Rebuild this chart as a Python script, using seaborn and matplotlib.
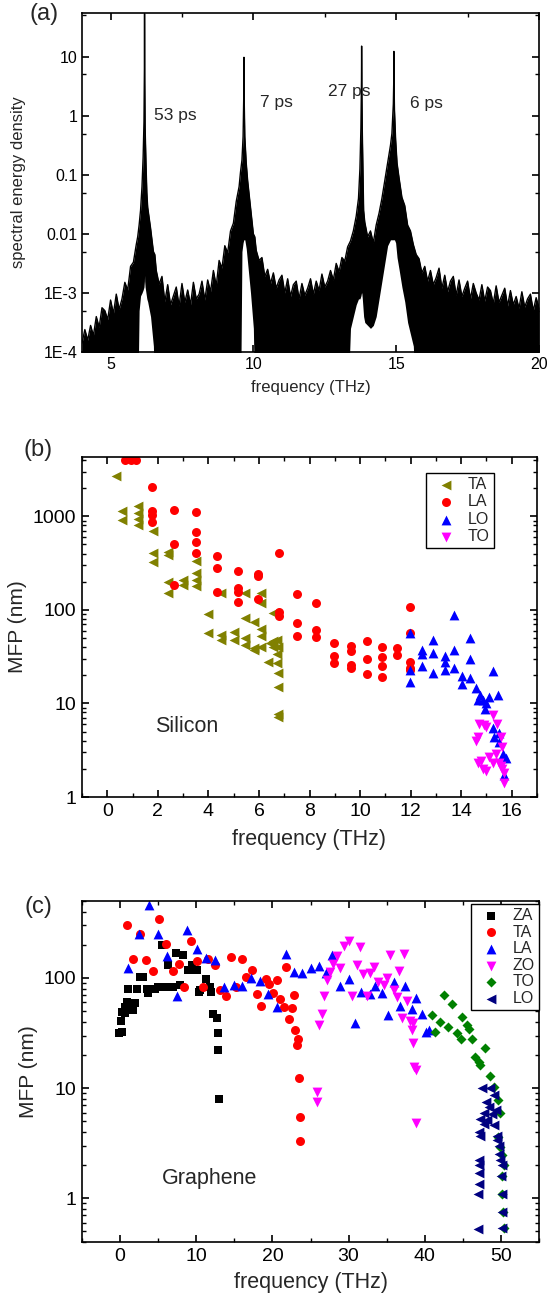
import numpy as np
import seaborn as sns
import matplotlib
matplotlib.use('Agg')
import matplotlib.pyplot as plt
from matplotlib.ticker import MultipleLocator, FixedLocator, LogLocator, FuncFormatter, NullFormatter

# ---------------- (a) spectral energy density ----------------
# noisy band: upper edge and lower edge (log10), -5 = band reaches the axis
sed_freq = [4.0, 4.1, 4.2, 4.3, 4.4, 4.5, 4.6, 4.7, 4.8, 4.9, 5.0, 5.1, 5.2, 5.3, 5.4, 5.5, 5.6, 5.7, 5.8, 5.9, 5.95,
            6.0, 6.05, 6.1, 6.14, 6.17, 6.185, 6.19, 6.195, 6.21, 6.24, 6.27, 6.3, 6.4, 6.5, 6.55,
            6.6, 6.7, 6.8, 6.9, 7.0, 7.1, 7.2, 7.3, 7.4, 7.5, 7.6, 7.7, 7.8, 7.9, 8.0, 8.1, 8.2, 8.3, 8.4, 8.5,
            8.6, 8.7, 8.8, 8.9, 9.0, 9.1, 9.2, 9.3, 9.4, 9.5,
            9.55, 9.6, 9.64, 9.665, 9.67, 9.675, 9.7, 9.75, 9.8, 9.9, 10.0, 10.05,
            10.1, 10.2, 10.3, 10.4, 10.5, 10.6, 10.7, 10.8, 10.9, 11.0, 11.1, 11.2, 11.3, 11.4, 11.5, 11.6, 11.7,
            11.8, 11.9, 12.0, 12.1, 12.2, 12.3, 12.4, 12.5, 12.6, 12.7, 12.8, 12.9, 13.0, 13.1, 13.2, 13.3,
            13.4, 13.5, 13.6, 13.68, 13.73, 13.765, 13.785, 13.79, 13.795, 13.815, 13.86, 13.9, 14.0, 14.1, 14.2,
            14.3, 14.4, 14.5, 14.6, 14.7, 14.8, 14.85, 14.9, 14.915, 14.92, 14.925, 14.94, 14.98, 15.03, 15.1,
            15.2, 15.3, 15.4, 15.5,
            15.6, 15.7, 15.8, 15.9, 16.0, 16.1, 16.2, 16.3, 16.4, 16.5, 16.6, 16.7, 16.8, 16.9, 17.0, 17.1, 17.2,
            17.3, 17.4, 17.5, 17.6, 17.7, 17.8, 17.9, 18.0, 18.1, 18.2, 18.3, 18.4, 18.5, 18.6, 18.7, 18.8, 18.9,
            19.0, 19.1, 19.2, 19.3, 19.4, 19.5, 19.6, 19.7, 19.8, 19.9, 20.0]
sed_hi_log = [-3.85, -3.62, -3.80, -3.55, -3.72, -3.40, -3.58, -3.25, -3.30, -3.45, -3.12, -3.35, -3.02, -3.28,
              -3.10, -2.82, -2.95, -2.55, -2.48, -2.18, -2.05,
              -1.85, -1.60, -1.20, -0.70, -0.10, 0.80, 1.73, 0.80, -0.20, -0.80, -1.30, -1.55, -1.90, -2.30, -2.35,
              -2.62, -2.85, -2.72, -3.15, -2.86, -3.20, -3.05, -2.90, -3.22, -2.84, -3.16, -2.95, -3.20, -2.82,
              -3.10, -3.02, -2.80, -3.12, -2.78, -2.98,
              -2.62, -2.88, -2.45, -2.58, -2.20, -2.32, -1.95, -1.82, -1.45, -1.20,
              -0.95, -0.75, -0.35, 0.40, 0.99, 0.40, -0.35, -0.80, -1.10, -1.55, -2.00, -2.05,
              -2.28, -2.45, -2.40, -2.72, -2.60, -2.84, -2.66, -2.92, -2.78, -2.70, -3.00, -2.76, -3.06, -2.86,
              -2.80, -3.10, -2.84, -3.04, -2.92, -2.76, -3.02, -2.80, -2.96, -2.68, -2.90, -2.80, -2.62, -2.78,
              -2.50, -2.64, -2.40, -2.46, -2.22,
              -2.12, -1.95, -1.70, -1.40, -0.90, -0.20, 0.60, 1.18, 0.60, -0.30, -1.60, -1.80, -2.05, -1.95, -2.15,
              -1.85, -1.65, -1.40, -1.10, -0.80, -0.50, -0.30, 0.20, 0.60, 1.09, 0.60, 0.10, -0.40, -0.80, -1.05,
              -1.38, -1.52, -1.85, -1.95,
              -2.18, -2.35, -2.42, -2.66, -2.55, -2.80, -2.62, -2.86, -2.74, -2.58, -2.92, -2.70, -2.98, -2.80,
              -2.72, -3.04, -2.78, -3.06, -2.92, -2.80, -3.10, -2.84, -3.00, -3.12, -2.86, -3.14, -2.90, -2.96,
              -3.18, -2.88, -3.16, -3.04, -2.92, -3.22, -2.96, -3.20, -3.06, -3.26, -2.98, -3.24, -3.10, -3.02,
              -3.30, -3.08, -3.25]
sed_lo_log = [-5, -5, -5, -5, -5, -5, -5, -5, -5, -5, -5, -5, -5, -5, -5, -5, -5, -5, -5, -5, -5,
              -3.30, -3.05, -3.00, -2.95, -2.90, -2.80, -2.70, -2.80, -2.90, -3.00, -3.10, -3.15, -3.40, -3.90, -5,
              -5, -5, -5, -5, -5, -5, -5, -5, -5, -5, -5, -5, -5, -5, -5, -5, -5, -5, -5, -5,
              -5, -5, -5, -5, -5, -5, -5, -5, -5, -5,
              -5, -2.30, -2.15, -2.10, -2.10, -2.10, -2.10, -2.25, -2.50, -3.00, -3.60, -5,
              -5, -5, -5, -5, -5, -5, -5, -5, -5, -5, -5, -5, -5, -5, -5, -5, -5,
              -5, -5, -5, -5, -5, -5, -5, -5, -5, -5, -5, -5, -5, -5, -5, -5,
              -3.60, -3.40, -3.20, -3.10, -3.10, -3.05, -3.00, -3.00, -3.00, -3.10, -3.40, -3.50, -3.55, -3.60, -3.55,
              -3.40, -3.10, -2.80, -2.50, -2.20, -2.10, -2.10, -2.10, -2.10, -2.10, -2.10, -2.10, -2.15, -2.40, -2.60,
              -2.90, -3.15, -3.50, -3.70,
              -3.90, -5, -5, -5, -5, -5, -5, -5, -5, -5, -5, -5, -5, -5, -5, -5, -5,
              -5, -5, -5, -5, -5, -5, -5, -5, -5, -5, -5, -5, -5, -5, -5, -5, -5,
              -5, -5, -5, -5, -5, -5, -5, -5, -5, -5, -5]
peak_f = [6.52, 10.22, 12.62, 15.48]
peak_y = [1.0, 1.68, 2.57, 1.64]
peak_txt = ['53 ps', '7 ps', '27 ps', '6 ps']
sed_ticks = [1e-4, 1e-3, 1e-2, 0.1, 1, 10]
sed_ticklabels = ['1E-4', '1E-3', '0.01', '0.1', '1', '10']

# ---------------- (b) silicon ----------------
ta_si_f = [0.35, 0.6, 0.6, 1.2, 1.2, 1.2, 1.2, 1.8, 1.8, 1.8, 2.4, 2.4, 2.4, 2.4, 3.0, 3.0, 3.5, 3.5, 3.5, 3.5,
           4.0, 4.0, 4.5, 4.5, 4.5, 5.0, 5.0, 5.45, 5.45, 5.45, 5.45, 5.8, 5.8, 5.8, 6.1, 6.1, 6.1, 6.1, 6.1,
           6.35, 6.45, 6.55, 6.55, 6.55, 6.7, 6.7, 6.7, 6.75, 6.75, 6.75, 6.75, 6.75]
ta_si_mfp = [2700, 1150, 920, 1280, 1090, 945, 815, 690, 405, 325, 420, 390, 200, 153, 210, 185, 330, 247, 210, 178,
             90, 56, 153, 54, 48, 58, 48, 153, 82, 50, 42, 75, 39, 37, 150, 118, 63, 52, 40,
             28, 44, 92, 46, 40, 48, 34, 27, 40, 21, 15, 7.8, 7.2]
la_si_f = [0.7, 0.95, 1.15, 1.76, 1.76, 1.76, 1.76, 2.63, 2.63, 2.63, 3.51, 3.51, 3.51, 3.51, 4.34, 4.34, 4.34,
           5.16, 5.16, 5.16, 5.16, 5.97, 5.97, 5.97, 6.8, 6.8, 6.8, 7.51, 7.51, 7.51, 8.26, 8.26, 8.26,
           8.98, 8.98, 8.98, 9.63, 9.63, 9.63, 9.63, 10.29, 10.29, 10.29, 10.87, 10.87, 10.87, 10.87,
           11.46, 11.46, 11.98, 11.98, 11.98, 11.98, 11.98]
la_si_mfp = [4000, 4000, 4000, 2070, 1150, 1040, 870, 1160, 510, 185, 1120, 680, 525, 410, 380, 278, 157,
             257, 170, 157, 121, 243, 231, 130, 405, 96, 85, 148, 72, 53, 118, 61, 51,
             44, 32, 27, 41, 36, 26, 24, 47, 30, 20.5, 40, 31, 25, 19,
             39, 33, 108, 56, 28, 24, 23]
lo_si_f = [11.98, 11.98, 11.98, 12.47, 12.47, 12.47, 12.9, 12.9, 12.9, 13.36, 13.36, 13.36, 13.71, 13.71, 13.71,
           14.05, 14.05, 14.36, 14.36, 14.36, 14.6, 14.66, 14.73, 14.86, 14.93, 15.0, 15.12, 15.25, 15.25, 15.3,
           15.47, 15.5, 15.5, 15.65, 15.7, 15.78]
lo_si_mfp = [56, 23, 17, 37, 34, 25, 48, 35, 21, 32, 28, 23, 88, 37, 24,
             19.6, 16, 50, 30, 18.8, 14.5, 10.8, 12.3, 10.8, 8.8, 10, 11.8, 22, 5.4, 4.4,
             12.3, 4.8, 3.9, 2.9, 1.7, 2.6]
to_si_f = [15.25, 14.7, 14.9, 15.4, 15.0, 14.66, 14.6, 15.57, 15.63, 14.66, 14.86, 15.12, 15.37, 15.25, 15.57,
           15.63, 15.7, 15.7, 15.0, 15.5, 14.8]
to_si_mfp = [7.5, 6.1, 5.9, 6.1, 5.6, 4.4, 4.0, 4.4, 3.4, 2.3, 2.0, 2.7, 2.85, 2.3, 2.15,
             2.0, 1.4, 1.8, 1.9, 2.3, 2.4]

# ---------------- (c) graphene ----------------
za_g_f = [-0.1, 0.2, 0.1, 0.2, 0.66, 0.88, 0.66, 1.67, 1.97, 1.1, 2.2, 2.63, 3.07, 3.5, 3.72, 4.6, 5.03, 5.9,
          7.0, 7.9, 5.48, 6.35, 7.36, 8.3, 8.97, 9.4, 10.1, 10.4, 11.3, 11.8, 12.0, 12.26, 12.7, 12.83, 12.9,
          13.0, 9.6, 10.5]
za_g_mfp = [31.6, 32, 41, 49, 54, 60, 48, 51, 59, 80, 80, 102, 102, 80, 73, 80, 83, 83,
            83, 86, 200, 130, 169, 161, 117, 130, 117, 75, 98, 83, 75, 47, 43, 31.6, 22.4,
            7.9, 117, 77]
ta_g_f = [0.88, 1.75, 2.63, 3.42, 4.3, 5.17, 6.0, 6.92, 7.67, 8.45, 9.33, 10.08, 10.9, 11.6, 12.5, 13.14, 13.9,
          14.6, 15.2, 16.0, 16.56, 17.3, 17.96, 18.5, 19.1, 19.6, 20.1, 20.6, 21.0, 21.5, 21.8, 22.2, 22.6,
          22.8, 23.0, 23.2, 23.35, 23.5, 23.56, 23.56]
ta_g_mfp = [305, 150, 253, 145, 116, 346, 205, 116, 135, 83, 217, 142, 83, 150, 130, 77, 69,
            155, 83, 150, 102, 119, 71, 56, 97, 88, 73, 95, 65, 54, 126, 42, 53,
            70, 33.5, 24.5, 28, 12.4, 5.5, 3.3]
la_g_f = [1.1, 2.54, 3.85, 5.03, 6.2, 7.53, 8.76, 10.08, 11.3, 12.5, 13.67, 14.9, 16.07, 17.2, 18.4, 19.4,
          20.55, 21.8, 22.8, 23.9, 25.0, 26.1, 27.07, 27.8, 28.9, 30.0, 30.9, 31.6, 32.85, 33.5, 34.4, 35.2,
          36.0, 36.7, 37.45, 38.3, 38.9, 39.6, 40.1, 40.6]
la_g_mfp = [122, 253, 458, 253, 157, 68, 270, 185, 152, 147, 82, 86, 85, 99, 94, 72,
            54, 164, 113, 110, 122, 128, 110, 161, 84, 97, 39, 74, 71, 84, 73, 46,
            92, 56, 85, 52, 66, 47, 32, 33.5]
zo_g_f = [26.06, 26.5, 26.8, 25.85, 25.9, 27.2, 27.6, 28.0, 28.5, 28.9, 29.4, 30.0, 30.4, 31.1, 31.45, 31.9,
          32.4, 32.85, 33.4, 33.9, 34.6, 35.0, 35.5, 35.9, 36.35, 36.6, 37.0, 37.3, 37.66, 38.1, 38.3, 38.5,
          38.45, 38.6, 38.8, 38.8]
zo_g_mfp = [37.7, 47, 69, 9.2, 7.5, 95, 113, 135, 157, 122, 194, 216, 69, 130, 191, 109,
            69, 110, 126, 92, 86, 99, 161, 78, 67, 116, 43, 166, 62, 41, 33.5, 39,
            25.7, 15.5, 14.7, 4.8]
to_g_f = [40.96, 41.4, 42.05, 42.5, 43.1, 43.6, 44.2, 44.7, 44.9, 45.5, 45.8, 46.2, 46.65, 47.1, 47.3, 47.96,
          48.6, 49.05, 49.6, 49.85, 49.6, 49.85, 50.15, 50.4, 50.15, 50.15, 50.3, 50.4]
to_g_mfp = [46, 32.5, 40, 70, 35.5, 58, 31.6, 28, 44, 37.7, 34.6, 28, 19, 17.2, 16.3, 23.3,
            13, 10.2, 7.8, 6.0, 3.6, 2.9, 2.45, 2.0, 1.6, 1.1, 0.75, 0.54]
lo_g_f = [47.5, 48.6, 49.1, 48.1, 48.4, 49.3, 47.8, 48.8, 47.3, 48.2, 47.8, 49.1, 47.1, 47.3, 49.5, 49.5,
          49.7, 49.7, 49.9, 50.15, 47.1, 47.1, 47.1, 47.1, 47.0, 50.0, 50.15, 50.15, 50.15, 47.0]
lo_g_mfp = [10.1, 10.1, 8.6, 7.5, 6.7, 6.3, 6.0, 5.85, 5.25, 5.1, 4.7, 4.6, 4.0, 3.7, 3.7, 3.35,
            3.0, 2.5, 2.2, 2.0, 2.2, 2.0, 1.7, 1.35, 1.1, 1.6, 1.1, 0.75, 0.54, 0.53]

sns.set_style('ticks')
plt.rcParams['font.family'] = ['Liberation Sans', 'DejaVu Sans']
plt.rcParams.update({
    'xtick.direction': 'in', 'ytick.direction': 'in',
    'xtick.top': True, 'ytick.right': True,
    'axes.linewidth': 1.2, 'axes.edgecolor': 'black',
    'xtick.major.width': 1.2, 'ytick.major.width': 1.2,
    'xtick.minor.width': 1.0, 'ytick.minor.width': 1.0,
    'xtick.major.size': 5, 'ytick.major.size': 5,
    'xtick.minor.size': 3, 'ytick.minor.size': 3,
    'xtick.color': 'black', 'ytick.color': 'black',
})

W, H = 547, 1296
fig = plt.figure(figsize=(W / 100, H / 100), dpi=100)


def box(l, t, r, b):
    return [l / W, 1 - b / H, (r - l) / W, (b - t) / H]


ax_a = fig.add_axes(box(82, 13, 539, 352))
ax_b = fig.add_axes(box(82, 457, 537, 797))
ax_c = fig.add_axes(box(82, 901, 539, 1242))

# ---- (a)
ax_a.set_yscale('log')
sed_hi = 10.0 ** np.array(sed_hi_log)
sed_lo = 10.0 ** np.array(sed_lo_log)
ax_a.fill_between(sed_freq, sed_lo, sed_hi, color='black', lw=0)
sns.lineplot(x=sed_freq, y=sed_hi, ax=ax_a, color='black', lw=1.0, sort=False, estimator=None)
ax_a.set_xlim(4, 20)
ax_a.set_ylim(1e-4, 55)
ax_a.xaxis.set_major_locator(MultipleLocator(5))
ax_a.xaxis.set_minor_locator(MultipleLocator(2.5))
ax_a.yaxis.set_major_locator(FixedLocator(sed_ticks))
ax_a.yaxis.set_major_formatter(FuncFormatter(lambda v, p: sed_ticklabels[sed_ticks.index(v)] if v in sed_ticks else ''))
ax_a.yaxis.set_minor_locator(FixedLocator([5e-4, 5e-3, 5e-2, 0.5, 5, 50]))
ax_a.yaxis.set_minor_formatter(NullFormatter())
ax_a.tick_params(labelsize=11.5)
for f, y, t in zip(peak_f, peak_y, peak_txt):
    ax_a.text(f, y, t, fontsize=12.5, ha='left', va='center')
ax_a.set_xlabel('frequency (THz)', fontsize=12, va='center')
ax_a.set_ylabel('spectral energy density', fontsize=12, va='center')
ax_a.xaxis.set_label_coords(0.5, -0.105)
ax_a.yaxis.set_label_coords(-0.138, 0.5)

# ---- (b)
ax_b.set_yscale('log')
si_series = [
    (ta_si_f, ta_si_mfp, 'TA', '<', '#808000', 50),
    (la_si_f, la_si_mfp, 'LA', 'o', '#ff0000', 42),
    (lo_si_f, lo_si_mfp, 'LO', '^', '#0000ff', 50),
    (to_si_f, to_si_mfp, 'TO', 'v', '#ff00ff', 50),
]
for fx, my, lab, mk, col, sz in si_series:
    sns.scatterplot(x=fx, y=my, ax=ax_b, marker=mk, color=col, s=sz, linewidth=0, label=lab)
ax_b.set_xlim(-1, 17)
ax_b.set_ylim(1, 4300)
ax_b.xaxis.set_major_locator(MultipleLocator(2))
ax_b.xaxis.set_minor_locator(MultipleLocator(1))
ax_b.yaxis.set_major_locator(FixedLocator([1, 10, 100, 1000]))
ax_b.yaxis.set_major_formatter(FuncFormatter(lambda v, p: f'{v:g}'))
ax_b.yaxis.set_minor_locator(LogLocator(base=10, subs=(2, 3, 4, 5, 6, 7, 8, 9)))
ax_b.yaxis.set_minor_formatter(NullFormatter())
ax_b.tick_params(labelsize=14, pad=4)
ax_b.text(1.9, 5.6, 'Silicon', fontsize=15.5, ha='left', va='center')
ax_b.set_xlabel('frequency (THz)', fontsize=15.5, va='center')
ax_b.set_ylabel('MFP (nm)', fontsize=15, va='center')
ax_b.xaxis.set_label_coords(0.5, -0.126)
ax_b.yaxis.set_label_coords(-0.141, 0.5)
leg = ax_b.legend(loc='upper right', bbox_to_anchor=(0.905, 0.953), frameon=True, fancybox=False,
                  edgecolor='black', framealpha=1, fontsize=11.5, borderpad=0.25, labelspacing=0.15,
                  handlelength=2.0, handletextpad=0.4, borderaxespad=0)
leg.get_frame().set_linewidth(1.0)

# ---- (c)
ax_c.set_yscale('log')
g_series = [
    (za_g_f, za_g_mfp, 'ZA', 's', 'black', 28),
    (ta_g_f, ta_g_mfp, 'TA', 'o', '#ff0000', 42),
    (la_g_f, la_g_mfp, 'LA', '^', '#0000ff', 50),
    (zo_g_f, zo_g_mfp, 'ZO', 'v', '#ff00ff', 50),
    (to_g_f, to_g_mfp, 'TO', 'D', '#008000', 26),
    (lo_g_f, lo_g_mfp, 'LO', '<', '#000080', 50),
]
for fx, my, lab, mk, col, sz in g_series:
    sns.scatterplot(x=fx, y=my, ax=ax_c, marker=mk, color=col, s=sz, linewidth=0, label=lab)
ax_c.set_xlim(-5, 55)
ax_c.set_ylim(0.4, 500)
ax_c.xaxis.set_major_locator(MultipleLocator(10))
ax_c.xaxis.set_minor_locator(MultipleLocator(5))
ax_c.yaxis.set_major_locator(FixedLocator([1, 10, 100]))
ax_c.yaxis.set_major_formatter(FuncFormatter(lambda v, p: f'{v:g}'))
ax_c.yaxis.set_minor_locator(LogLocator(base=10, subs=(2, 3, 4, 5, 6, 7, 8, 9)))
ax_c.yaxis.set_minor_formatter(NullFormatter())
ax_c.tick_params(labelsize=14, pad=4)
ax_c.text(5.5, 1.5, 'Graphene', fontsize=15.5, ha='left', va='center')
ax_c.set_xlabel('frequency (THz)', fontsize=15.5, va='center')
ax_c.set_ylabel('MFP (nm)', fontsize=15, va='center')
ax_c.xaxis.set_label_coords(0.5, -0.12)
ax_c.yaxis.set_label_coords(-0.118, 0.5)
leg = ax_c.legend(loc='upper right', bbox_to_anchor=(1.0, 0.991), frameon=True, fancybox=False,
                  edgecolor='black', framealpha=1, fontsize=11.5, borderpad=0.25, labelspacing=0.1,
                  handlelength=2.0, handletextpad=0.4, borderaxespad=0)
leg.get_frame().set_linewidth(1.0)

# panel letters
fig.text(44 / W, 1 - 14 / H, '(a)', fontsize=17, ha='center', va='center')
fig.text(38 / W, 1 - 450 / H, '(b)', fontsize=17, ha='center', va='center')
fig.text(38 / W, 1 - 907 / H, '(c)', fontsize=17, ha='center', va='center')

fig.savefig('out.png', dpi=100)
